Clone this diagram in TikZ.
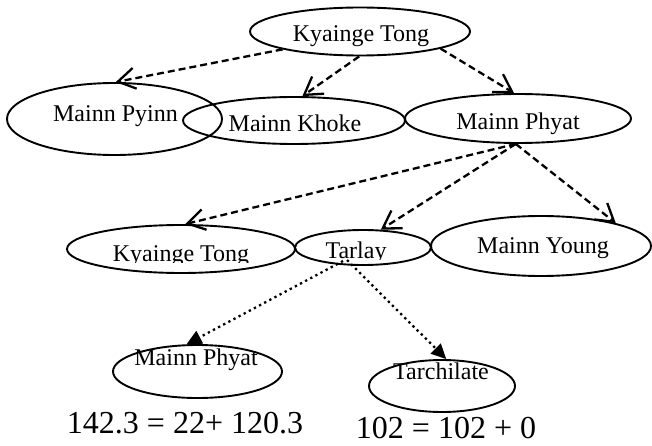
\documentclass[tikz,border=0pt]{standalone}
\usepackage{fontspec}
\setmainfont{Liberation Serif}
\usetikzlibrary{arrows.meta,shapes.geometric}
\begin{document}
\begin{tikzpicture}[x=1pt,y=-1pt,
  ell/.style={draw, ellipse, line width=1.9pt, inner sep=0pt},
  lbl/.style={anchor=base, inner sep=0pt, font=\fontsize{24}{28}\selectfont},
  eqn/.style={anchor=base, inner sep=0pt, font=\fontsize{32}{38}\selectfont},
  dasharrow/.style={line width=2.3pt, dash pattern=on 7pt off 4pt,
    -{Straight Barb[length=17pt,width=21pt,line width=2.3pt]}},
  dotarrow/.style={line width=2.3pt, dash pattern=on 2.3pt off 3.5pt,
    -{Triangle[length=15pt,width=14pt]}}]
\useasboundingbox (0,0) rectangle (652,446);
% ellipses
\node[ell, minimum width=220pt, minimum height=48pt] (kt) at (360,31.5) {};
\node[ell, minimum width=215pt, minimum height=72pt] (mp) at (114.5,119) {};
\node[ell, minimum width=222pt, minimum height=47pt] (mk) at (294,120.5) {};
\node[ell, minimum width=226pt, minimum height=49pt] (mph) at (518,118.5) {};
\node[ell, minimum width=228pt, minimum height=48pt] (kt2) at (181,249) {};
\node[ell, minimum width=136pt, minimum height=35pt] (tl) at (363,247.5) {};
\node[ell, minimum width=220pt, minimum height=60pt] (my) at (541,246) {};
\node[ell, minimum width=169pt, minimum height=53pt] (mph2) at (197.5,371.5) {};
\node[ell, minimum width=146pt, minimum height=52pt] (tc) at (442,386) {};
% texts
\node[lbl] (tkt) at (361,42) {Kyainge Tong};
\node[lbl] (tmp) at (115.5,122) {Mainn Pyinn};
\node[lbl] (tmk) at (295,132) {Mainn Khoke};
\node[lbl] (tmph) at (518,130) {Mainn Phyat};
\begin{scope}
  \clip (0,0) rectangle (652,262);
  \node[lbl] (tkt2) at (181,261) {Kyainge Tong};
\end{scope}
\begin{scope}
  \clip (0,0) rectangle (652,259);
  \node[lbl] (ttl) at (356,258) {Tarlay};
\end{scope}
\node[lbl] (tmy) at (543,253) {Mainn Young};
\node[lbl] (tmph2) at (196,365) {Mainn Phyat};
\node[lbl] (ttc) at (441,379) {Tarchilate};
\node[eqn] (eq1) at (185,433) {142.3 = 22+ 120.3};
\node[eqn] (eq2) at (446,438) {102 = 102 + 0};
% connectors
\draw[dasharrow] (kt.193) -- (mp.88);
\draw[dasharrow] (kt.268) -- (mk.71);
\draw[dasharrow] (kt.348) -- (mph.99);
\draw[dasharrow] (mph.265) -- (kt2.80);
\draw[dasharrow] (mph.265) -- (tl.45);
\draw[dasharrow] (mph.265) -- (my.17);
\draw[dotarrow] ([shift={(-20,13.5)}]tl.center) -- (mph2.112);
\draw[dotarrow] ([shift={(-16,12.5)}]tl.center) -- (tc.81);
\end{tikzpicture}
\end{document}
